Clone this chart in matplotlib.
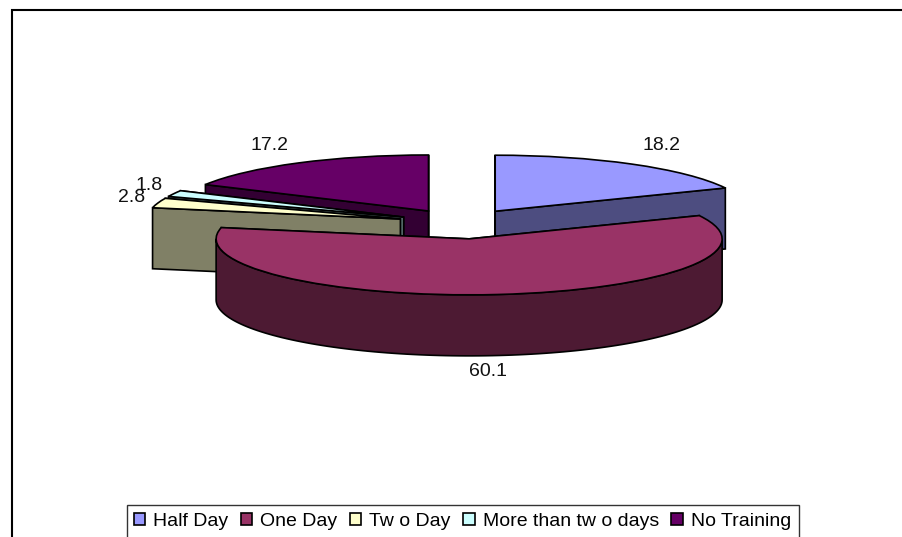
import numpy as np
import matplotlib
matplotlib.use('Agg')
import matplotlib.pyplot as plt
from matplotlib.patches import Polygon, Patch, Rectangle

plt.rcParams['font.family'] = ['Liberation Sans', 'DejaVu Sans']

categories = ['Half Day', 'One Day', 'Tw o Day', 'More than tw o days', 'No Training']
values = [18.2, 60.1, 2.8, 1.8, 17.2]
top_colors = ['#9999FF', '#993366', '#FFFFCC', '#CCFFFF', '#660066']
side_colors = ['#4D4D80', '#4D1A33', '#808066', '#668080', '#330033']
explode = [0.25, 0.285, 0.25, 0.25, 0.25]
# back to front
draw_order = [4, 3, 2, 0, 1]
label_px = [(661, 145), (488, 371), (132, 198), (149, 185), (269, 145)]

W, H = 903, 537
cx, cy = 461, 223   # pie centre, pixels
rx, ry = 253, 56    # pixels per pie radius
depth = 61 / ry
edge = 1.2


def to_data(px, py):
    return (px - cx) / rx, (cy - py) / ry


def draw_sides(wedge, color, z):
    x0, y0 = wedge.center
    t1, t2 = wedge.theta1, wedge.theta2
    for t in (t1, t2):
        a = np.radians(t)
        rim = (x0 + np.cos(a), y0 + np.sin(a))
        pts = [(x0, y0), rim, (rim[0], rim[1] - depth), (x0, y0 - depth)]
        ax.add_patch(Polygon(pts, closed=True, fc=color, ec='black', lw=edge, zorder=z))
    # outer wall, only the part facing the viewer
    lo, hi = max(t1, -180), min(t2, 0)
    if lo < hi:
        a = np.radians(np.linspace(lo, hi, 120))
        xs = x0 + np.cos(a)
        ys = y0 + np.sin(a)
        pts = np.vstack([np.c_[xs, ys], np.c_[xs, ys - depth][::-1]])
        ax.add_patch(Polygon(pts, closed=True, fc=color, ec='black', lw=edge, zorder=z))


fig = plt.figure(figsize=(W / 100, H / 100), dpi=100)
ax = fig.add_axes([0, 0, 1, 1])

wedges, _ = ax.pie(values, explode=explode, startangle=90, counterclock=False,
                   radius=1, colors=top_colors,
                   wedgeprops={'edgecolor': 'black', 'linewidth': edge})
ax.set_aspect('auto')
ax.set_xlim(-cx / rx, (W - cx) / rx)
ax.set_ylim((cy - H) / ry, cy / ry)
ax.set_axis_off()

for n, i in enumerate(draw_order):
    draw_sides(wedges[i], side_colors[i], 2 + n)
    wedges[i].set_zorder(2 + n + 0.5)

for val, (px, py) in zip(values, label_px):
    x, y = to_data(px, py)
    ax.text(x, y, str(val), ha='center', va='center', fontsize=14, color='#111111', zorder=20)

# chart border, runs off the right and bottom of the image
x0, y0 = to_data(12, 10)
x1, y1 = to_data(W + 20, H + 20)
ax.add_patch(Rectangle((x0, y1), x1 - x0, y0 - y1, fc='none', ec='black', lw=1.5, zorder=15,
                       clip_on=False))

# legend box, also cut off at the bottom
x0, y0 = to_data(127, 504.5)
x1, y1 = to_data(799, H + 20)
ax.add_patch(Rectangle((x0, y1), x1 - x0, y0 - y1, fc='white', ec='#333333', lw=1.0, zorder=16))

handles = [Patch(fc=c, ec='black', lw=1.2) for c in top_colors]
lx, ly = to_data(128, 536)
lx2, ly2 = to_data(797, 504)
leg = ax.legend(handles, categories, ncol=5, loc='lower left', mode='expand',
                bbox_to_anchor=(lx, ly, lx2 - lx, ly2 - ly), bbox_transform=ax.transData,
                frameon=False, fontsize=14, borderaxespad=0, borderpad=0.3,
                handlelength=0.58, handleheight=0.58, handletextpad=0.42, columnspacing=0.3)
leg.set_zorder(17)

fig.savefig('out.png', dpi=100)
